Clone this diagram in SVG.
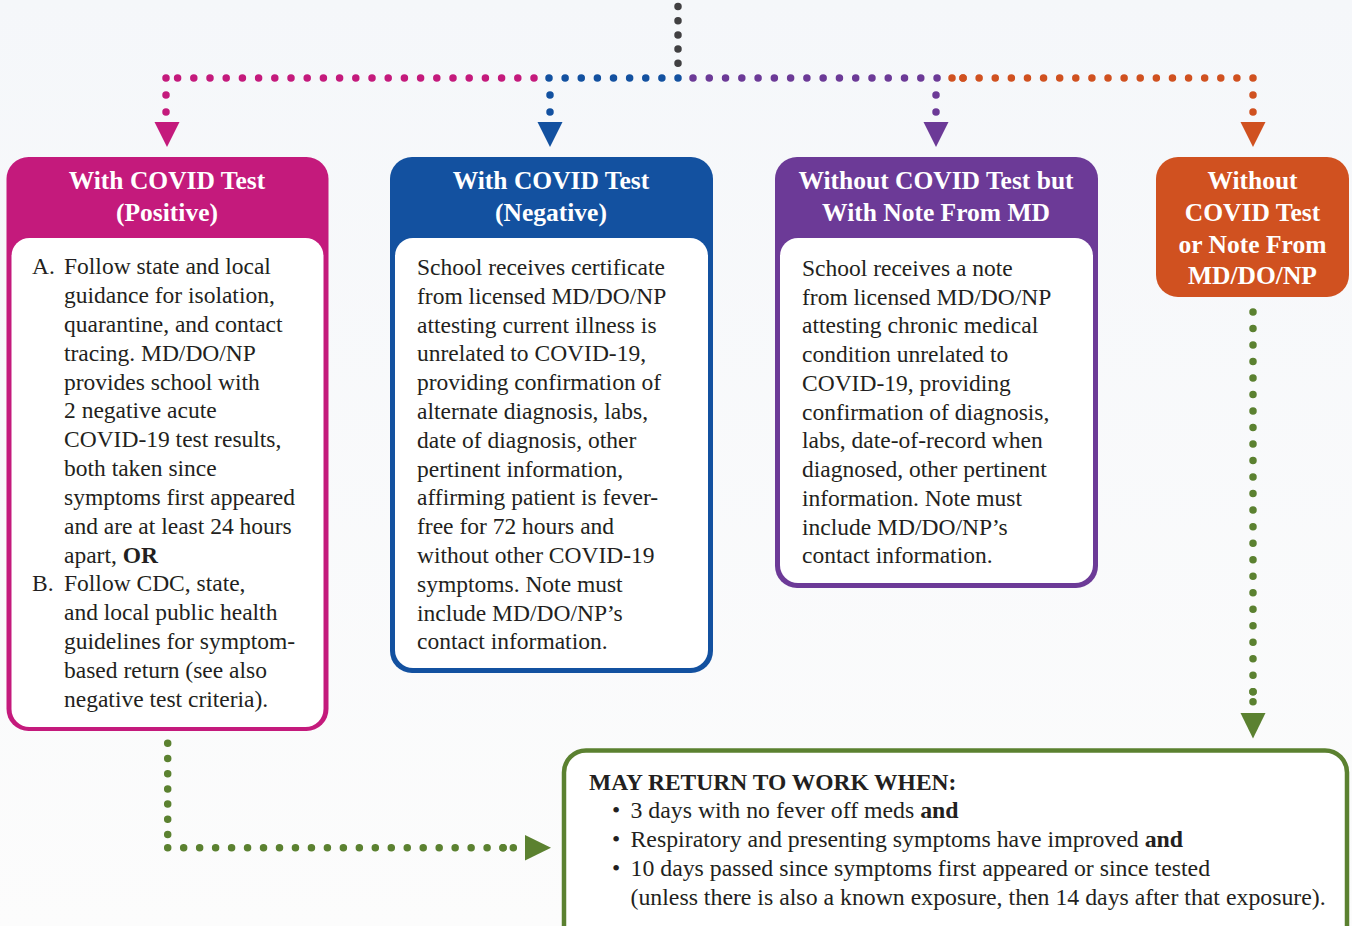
<svg xmlns="http://www.w3.org/2000/svg" width="1352" height="926" viewBox="0 0 1352 926">
  <defs>
    <linearGradient id="bg" x1="0" y1="0" x2="0" y2="1">
      <stop offset="0" stop-color="#f5f7fa"/>
      <stop offset="1" stop-color="#fcfcfc"/>
    </linearGradient>
    <style>
      .dots { fill: none; stroke-width: 7.5; stroke-linecap: round; }
      .head { font-family: "Liberation Serif", "DejaVu Serif", serif; font-weight: bold; font-size: 25.5px; fill: #ffffff; text-anchor: middle; }
      .body { font-family: "Liberation Serif", "DejaVu Serif", serif; font-size: 23.5px; fill: #231f20; }
      .wide { font-size: 23.8px; }
      .b { font-weight: bold; }
      .inner { fill: #ffffff; }
    </style>
  </defs>

  <rect width="1352" height="926" fill="url(#bg)"/>

  <!-- dotted connectors (each path runs a little past its last dot so the end dot is drawn) -->
  <g id="connectors">
    <!-- trunk from above -->
    <path class="dots" stroke="#414042" stroke-dasharray="0 14.2" d="M678,6.5 V65"/>
    <!-- horizontal distribution bar -->
    <path class="dots" stroke="#c41a7c" stroke-dasharray="0 16.2" d="M534,78 H175"/>
    <path class="dots" stroke="#c41a7c" stroke-dasharray="0 17" d="M166,78 V114"/>
    <path class="dots" stroke="#1351a0" stroke-dasharray="0 16.125" d="M549,78 H680"/>
    <path class="dots" stroke="#1351a0" stroke-dasharray="0 17" d="M550,95 V114"/>
    <path class="dots" stroke="#6c3a97" stroke-dasharray="0 16.27" d="M693,78 H939"/>
    <path class="dots" stroke="#6c3a97" stroke-dasharray="0 17" d="M936,95 V114"/>
    <path class="dots" stroke="#d05120" stroke-dasharray="0 16.11" d="M1253,78 H961"/>
    <path class="dots" stroke="#d05120" stroke-dasharray="0 11" d="M952,78 H965"/>
    <path class="dots" stroke="#d05120" stroke-dasharray="0 17" d="M1253,95 V114"/>
    <!-- arrowheads into the four category boxes -->
    <polygon fill="#c41a7c" points="154.5,122 179.5,122 167,147"/>
    <polygon fill="#1351a0" points="537.5,122 562.5,122 550,147"/>
    <polygon fill="#6c3a97" points="923.5,122 948.5,122 936,147"/>
    <polygon fill="#d05120" points="1240.5,122 1265.5,122 1253,147"/>
    <!-- green links into the return-to-work box -->
    <path class="dots" stroke="#5b8130" stroke-dasharray="0 15.2" d="M167.7,743.3 V838"/>
    <path class="dots" stroke="#5b8130" stroke-dasharray="0 15.97" d="M167.7,847.7 H505"/>
    <path class="dots" stroke="#5b8130" stroke-dasharray="0 10.3" d="M503,847.7 H515"/>
    <polygon fill="#5b8130" points="525,835 525,860.5 551,847.7"/>
    <path class="dots" stroke="#5b8130" stroke-dasharray="0 16.51" d="M1253,312 V693.5"/>
    <path class="dots" stroke="#5b8130" stroke-dasharray="0 10" d="M1253,691.7 V703.5"/>
    <polygon fill="#5b8130" points="1240.5,713 1265.5,713 1253,738.5"/>
  </g>

  <!-- positive test -->
  <g id="node-positive">
    <rect x="6.5" y="157" width="322" height="574" rx="22" fill="#c41a7c"/>
    <rect class="inner" x="11.5" y="238" width="312" height="489" rx="18"/>
    <text class="head" x="167" y="189">With COVID Test</text>
    <text class="head" x="167" y="221">(Positive)</text>
    <text class="body">
      <tspan x="32" y="274.3">A.</tspan>
      <tspan x="32" y="591">B.</tspan>
    </text>
    <text class="body" x="64" y="274.3">
      <tspan x="64" y="274.3">Follow state and local</tspan>
      <tspan x="64" dy="28.83">guidance for isolation,</tspan>
      <tspan x="64" dy="28.83">quarantine, and contact</tspan>
      <tspan x="64" dy="28.83">tracing. MD/DO/NP</tspan>
      <tspan x="64" dy="28.83">provides school with</tspan>
      <tspan x="64" dy="28.83">2 negative acute</tspan>
      <tspan x="64" dy="28.83">COVID-19 test results,</tspan>
      <tspan x="64" dy="28.83">both taken since</tspan>
      <tspan x="64" dy="28.83">symptoms first appeared</tspan>
      <tspan x="64" dy="28.83">and are at least 24 hours</tspan>
      <tspan x="64" dy="28.83">apart, <tspan class="b">OR</tspan></tspan>
      <tspan x="64" dy="28.83">Follow CDC, state,</tspan>
      <tspan x="64" dy="28.83">and local public health</tspan>
      <tspan x="64" dy="28.83">guidelines for symptom-</tspan>
      <tspan x="64" dy="28.83">based return (see also</tspan>
      <tspan x="64" dy="28.83">negative test criteria).</tspan>
    </text>
  </g>

  <!-- negative test -->
  <g id="node-negative">
    <rect x="390" y="157" width="323" height="516" rx="22" fill="#1351a0"/>
    <rect class="inner" x="395" y="238" width="313" height="430" rx="18"/>
    <text class="head" x="551" y="189">With COVID Test</text>
    <text class="head" x="551" y="221">(Negative)</text>
    <text class="body">
      <tspan x="417" y="275">School receives certificate</tspan>
      <tspan x="417" dy="28.8">from licensed MD/DO/NP</tspan>
      <tspan x="417" dy="28.8">attesting current illness is</tspan>
      <tspan x="417" dy="28.8">unrelated to COVID-19,</tspan>
      <tspan x="417" dy="28.8">providing confirmation of</tspan>
      <tspan x="417" dy="28.8">alternate diagnosis, labs,</tspan>
      <tspan x="417" dy="28.8">date of diagnosis, other</tspan>
      <tspan x="417" dy="28.8">pertinent information,</tspan>
      <tspan x="417" dy="28.8">affirming patient is fever-</tspan>
      <tspan x="417" dy="28.8">free for 72 hours and</tspan>
      <tspan x="417" dy="28.8">without other COVID-19</tspan>
      <tspan x="417" dy="28.8">symptoms. Note must</tspan>
      <tspan x="417" dy="28.8">include MD/DO/NP’s</tspan>
      <tspan x="417" dy="28.8">contact information.</tspan>
    </text>
  </g>

  <!-- note from MD -->
  <g id="node-md-note">
    <rect x="775" y="157" width="323" height="431" rx="22" fill="#6c3a97"/>
    <rect class="inner" x="780" y="238" width="313" height="345" rx="18"/>
    <text class="head" x="936" y="189">Without COVID Test but</text>
    <text class="head" x="936" y="221">With Note From MD</text>
    <text class="body">
      <tspan x="802" y="276">School receives a note</tspan>
      <tspan x="802" dy="28.73">from licensed MD/DO/NP</tspan>
      <tspan x="802" dy="28.73">attesting chronic medical</tspan>
      <tspan x="802" dy="28.73">condition unrelated to</tspan>
      <tspan x="802" dy="28.73">COVID-19, providing</tspan>
      <tspan x="802" dy="28.73">confirmation of diagnosis,</tspan>
      <tspan x="802" dy="28.73">labs, date-of-record when</tspan>
      <tspan x="802" dy="28.73">diagnosed, other pertinent</tspan>
      <tspan x="802" dy="28.73">information. Note must</tspan>
      <tspan x="802" dy="28.73">include MD/DO/NP’s</tspan>
      <tspan x="802" dy="28.73">contact information.</tspan>
    </text>
  </g>

  <!-- no test, no note -->
  <g id="node-no-test">
    <rect x="1156" y="157" width="193" height="140" rx="22" fill="#d05120"/>
    <text class="head" x="1252.5" y="189">Without</text>
    <text class="head" x="1252.5" y="221">COVID Test</text>
    <text class="head" x="1252.5" y="253">or Note From</text>
    <text class="head" x="1252.5" y="284">MD/DO/NP</text>
  </g>

  <!-- return to work criteria -->
  <g id="node-return">
    <rect x="564" y="750.5" width="783" height="200" rx="22" fill="#ffffff" stroke="#5b8130" stroke-width="4.5"/>
    <text class="body b" x="589" y="790">MAY RETURN TO WORK WHEN:</text>
    <text class="body">
      <tspan x="612" y="818">•</tspan>
      <tspan x="612" y="847">•</tspan>
      <tspan x="612" y="876">•</tspan>
    </text>
    <text class="body wide">
      <tspan x="630.5" y="818">3 days with no fever off meds <tspan class="b">and</tspan></tspan>
      <tspan x="630.5" y="847">Respiratory and presenting symptoms have improved <tspan class="b">and</tspan></tspan>
      <tspan x="630.5" y="876">10 days passed since symptoms first appeared or since tested</tspan>
      <tspan x="630.5" y="905">(unless there is also a known exposure, then 14 days after that exposure).</tspan>
    </text>
  </g>
</svg>
